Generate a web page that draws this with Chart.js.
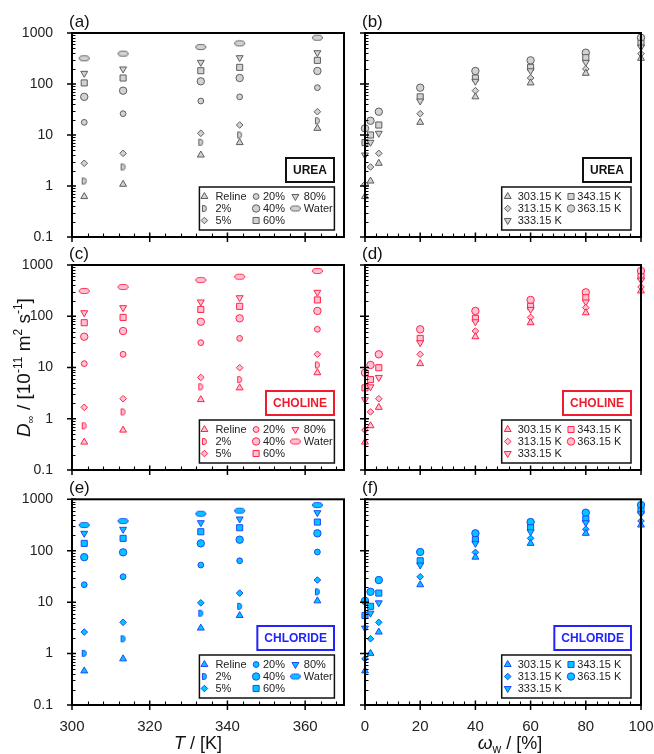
<!DOCTYPE html>
<html>
<head>
<meta charset="utf-8">
<script src="https://cdn.jsdelivr.net/npm/chart.js@4.4.1/dist/chart.umd.min.js"></script>
<style>
  body { margin: 0; background: #fff; }
  #fig { position: relative; width: 654px; height: 754px; }
  #fig canvas { position: absolute; }
</style>
</head>
<body>
<div id="fig">
  <canvas id="pa"></canvas><canvas id="pb"></canvas>
  <canvas id="pc"></canvas><canvas id="pd"></canvas>
  <canvas id="pe"></canvas><canvas id="pf"></canvas>
</div>
<script>
// temperatures and water contents used in the measurements
const temps = [303.15, 313.15, 333.15, 343.15, 363.15];
const tempLabels = ["303.15 K", "313.15 K", "333.15 K", "343.15 K", "363.15 K"];
const waterContent = [0, 2, 5, 20, 40, 60, 80, 100];
const mixLabels = ["Reline", "2%", "5%", "20%", "40%", "60%", "80%", "Water"];

// D_inf in 10^-11 m2/s, one array per mixture (values at each temperature)
const ureaReline = [0.62, 1.08, 4.05, 7.1, 13.5];
const urea2 = [1.25, 2.36, 7.2, 10.0, 19.0];
const urea5 = [2.79, 4.37, 10.8, 15.7, 28.6];
const urea20 = [17.7, 26.2, 46.4, 56, 84.7];
const urea40 = [56, 74, 113, 131, 180];
const urea60 = [105, 131, 182, 212, 291];
const urea80 = [162, 197, 266, 328, 411];
const ureaWater = [319, 393, 531, 627, 809];

const cholineReline = [0.35, 0.60, 2.36, 4.0, 7.9];
const choline2 = [0.73, 1.36, 4.2, 5.8, 11.2];
const choline5 = [1.67, 2.46, 6.4, 9.9, 18.1];
const choline20 = [11.9, 18.1, 30.5, 37, 55.6];
const choline40 = [39.9, 51.5, 78, 91, 127];
const choline60 = [74.8, 95, 136, 156, 208];
const choline80 = [117, 147, 190, 230, 293];
const cholineWater = [311, 373, 509, 591, 764];

const chlorideReline = [0.46, 0.79, 3.13, 5.5, 10.6];
const chloride2 = [1.01, 1.94, 6.1, 8.3, 15.9];
const chloride5 = [2.62, 4.05, 9.7, 15.0, 26.9];
const chloride20 = [21.8, 31.2, 52.7, 63.8, 94.4];
const chloride40 = [75, 93, 139, 164, 218];
const chloride60 = [139, 174, 234, 280, 361];
const chloride80 = [218, 261, 351, 414, 549];
const chlorideWater = [316, 378, 525, 600, 774];

// axis ticks
const yTickValues = [0.1, 1, 10, 100, 1000];
const yTickLabels = ["0.1", "1", "10", "100", "1000"];
const tTickValues = [300, 320, 340, 360];
const tTickLabels = ["300", "320", "340", "360"];
const wTickValues = [0, 20, 40, 60, 80, 100];
const wTickLabels = ["0", "20", "40", "60", "80", "100"];

const FONT = "'Liberation Sans', Arial, sans-serif";

// small canvas markers for the "D" and the flat ellipse
function makeDMarker(fill, stroke) {
    var c = document.createElement("canvas");
    c.width = 7; c.height = 9;
    var g = c.getContext("2d");
    g.beginPath();
    g.moveTo(1.5, 1.5);
    g.lineTo(3, 1.5);
    g.ellipse(3, 4.5, 2.5, 3, 0, -Math.PI / 2, Math.PI / 2);
    g.lineTo(1.5, 7.5);
    g.closePath();
    g.fillStyle = fill; g.fill();
    g.lineWidth = 1; g.strokeStyle = stroke; g.stroke();
    return c;
}
function makeEllipseMarker(fill, stroke) {
    var c = document.createElement("canvas");
    c.width = 13; c.height = 8;
    var g = c.getContext("2d");
    g.beginPath();
    g.ellipse(6.5, 4, 5, 2.6, 0, 0, Math.PI * 2);
    g.fillStyle = fill; g.fill();
    g.lineWidth = 1; g.strokeStyle = stroke; g.stroke();
    return c;
}

const themes = {
    urea: { fill: "#d2d2d2", stroke: "#5e5e5e", name: "UREA", nameColor: "#111111" },
    choline: { fill: "#ffc2d4", stroke: "#ff2448", name: "CHOLINE", nameColor: "#ee1c2e" },
    chloride: { fill: "#00c6ff", stroke: "#1f48ff", name: "CHLORIDE", nameColor: "#2323ff" }
};
for (var k in themes) {
    themes[k].dImg = makeDMarker(themes[k].fill, themes[k].stroke);
    themes[k].eImg = makeEllipseMarker(themes[k].fill, themes[k].stroke);
}

function mixStyles(th) {
    return [
        { pointStyle: "triangle", radius: 4, rotation: 0 },
        { pointStyle: th.dImg, radius: 4, rotation: 0 },
        { pointStyle: "rectRot", radius: 3.3, rotation: 0 },
        { pointStyle: "circle", radius: 2.9, rotation: 0 },
        { pointStyle: "circle", radius: 3.7, rotation: 0 },
        { pointStyle: "rect", radius: 4.3, rotation: 0 },
        { pointStyle: "triangle", radius: 4, rotation: 180 },
        { pointStyle: th.eImg, radius: 5, rotation: 0 }
    ];
}
function tempStyles(th) {
    return [
        { pointStyle: "triangle", radius: 4, rotation: 0 },
        { pointStyle: "rectRot", radius: 3.3, rotation: 0 },
        { pointStyle: "triangle", radius: 4, rotation: 180 },
        { pointStyle: "rect", radius: 4.3, rotation: 0 },
        { pointStyle: "circle", radius: 3.7, rotation: 0 }
    ];
}

function baseDataset(th, st) {
    return {
        pointStyle: st.pointStyle, pointRadius: st.radius, pointRotation: st.rotation,
        backgroundColor: th.fill, borderColor: th.stroke, pointBorderWidth: 1,
        showLine: false, clip: false
    };
}

// D vs T: one dataset per mixture
function byTemperature(rows, th) {
    var st = mixStyles(th);
    return rows.map(function (row, i) {
        var ds = baseDataset(th, st[i]);
        ds.label = mixLabels[i];
        ds.data = temps.map(function (t, j) { return { x: t, y: row[j] }; });
        return ds;
    });
}
// D vs water content: one dataset per temperature
function byWater(rows, th) {
    var st = tempStyles(th);
    return temps.map(function (t, j) {
        var ds = baseDataset(th, st[j]);
        ds.label = tempLabels[j];
        ds.data = waterContent.map(function (w, i) { return { x: w, y: rows[i][j] }; });
        return ds;
    });
}

const ureaRows = [ureaReline, urea2, urea5, urea20, urea40, urea60, urea80, ureaWater];
const cholineRows = [cholineReline, choline2, choline5, choline20, choline40, choline60, choline80, cholineWater];
const chlorideRows = [chlorideReline, chloride2, chloride5, chloride20, chloride40, chloride60, chloride80, chlorideWater];

const panelById = {};

function drawRich(ctx, parts, cx, baseY) {
    var total = 0;
    parts.forEach(function (p) { ctx.font = p.f; p.w = ctx.measureText(p.t).width; total += p.w; });
    var x = cx - total / 2;
    ctx.textAlign = "left";
    ctx.textBaseline = "alphabetic";
    parts.forEach(function (p) {
        ctx.font = p.f;
        ctx.fillText(p.t, x, baseY + (p.dy || 0));
        x += p.w;
    });
}

const decorPlugin = {
    id: "decor",
    afterDraw: function (chart) {
        var p = panelById[chart.canvas.id];
        var a = chart.chartArea;
        var ctx = chart.ctx;
        var xs = chart.scales.x, ys = chart.scales.y;
        ctx.save();
        ctx.strokeStyle = "#000";

        // minor ticks (inside)
        ctx.lineWidth = 1.1;
        ctx.beginPath();
        for (var e = -1; e <= 2; e++) {
            for (var m = 2; m <= 9; m++) {
                var py = Math.round(ys.getPixelForValue(m * Math.pow(10, e))) + 0.5;
                ctx.moveTo(a.left, py); ctx.lineTo(a.left + 3.5, py);
            }
        }
        for (var v = p.xMin; v <= p.xMax; v += p.xMinorStep) {
            if (p.xTickValues.indexOf(v) >= 0) continue;
            var px = Math.round(xs.getPixelForValue(v)) + 0.5;
            ctx.moveTo(px, a.bottom); ctx.lineTo(px, a.bottom - 3.5);
        }
        ctx.stroke();

        // major ticks (across the axis)
        ctx.lineWidth = 1.5;
        ctx.beginPath();
        yTickValues.forEach(function (v) {
            var py = ys.getPixelForValue(v);
            ctx.moveTo(a.left - 5, py); ctx.lineTo(a.left + 4, py);
        });
        p.xTickValues.forEach(function (v) {
            var px = xs.getPixelForValue(v);
            ctx.moveTo(px, a.bottom - 4.5); ctx.lineTo(px, a.bottom + 5);
        });
        ctx.stroke();

        // frame
        ctx.lineWidth = 2;
        ctx.strokeRect(a.left, a.top, a.right - a.left, a.bottom - a.top);

        // panel tag
        ctx.fillStyle = "#111";
        ctx.font = "17px " + FONT;
        ctx.textAlign = "left";
        ctx.textBaseline = "middle";
        ctx.fillText(p.tag, a.left - 3, a.top - 11);

        // name box
        var th = p.theme;
        ctx.font = "bold 12px " + FONT;
        var tw = ctx.measureText(th.name).width;
        var bw = tw + 14, bh = 24;
        var bx = a.right - 10 - bw, by = a.bottom - 55 - bh;
        ctx.fillStyle = "#fff";
        ctx.fillRect(bx, by, bw, bh);
        ctx.lineWidth = 2;
        ctx.strokeStyle = th.nameColor;
        ctx.strokeRect(bx, by, bw, bh);
        ctx.fillStyle = th.nameColor;
        ctx.textAlign = "center";
        ctx.fillText(th.name, bx + bw / 2, by + bh / 2 + 0.5);

        // legend
        var lg = p.legend;
        var lx = a.right - lg.right - lg.w, ly = a.bottom - lg.bottom - lg.h;
        ctx.fillStyle = "#fff";
        ctx.fillRect(lx, ly, lg.w, lg.h);
        ctx.lineWidth = 1.5;
        ctx.strokeStyle = "#111";
        ctx.strokeRect(lx, ly, lg.w, lg.h);
        var rowsY = [9.5, 21.5, 33.5];
        ctx.font = "11px " + FONT;
        ctx.textAlign = "left";
        lg.labels.forEach(function (label, i) {
            var col = Math.floor(i / 3), row = i % 3;
            var ty = ly + rowsY[row];
            var st = lg.styles[i];
            ctx.fillStyle = th.fill;
            ctx.strokeStyle = th.stroke;
            ctx.lineWidth = 1;
            Chart.helpers.drawPoint(ctx, { pointStyle: st.pointStyle, radius: st.radius, rotation: st.rotation, borderWidth: 1 }, lx + lg.cols[col].m, ty);
            ctx.fillStyle = "#222";
            ctx.textBaseline = "middle";
            ctx.fillText(label, lx + lg.cols[col].t, ty + 0.5);
        });

        // axis titles
        ctx.fillStyle = "#111";
        if (p.yTitle) {
            ctx.save();
            ctx.translate(29.5, (a.top + a.bottom) / 2);
            ctx.rotate(-Math.PI / 2);
            drawRich(ctx, [
                { t: "D", f: "italic 19px " + FONT },
                { t: "\u221e", f: "11px " + FONT, dy: 4 },
                { t: " / [10", f: "19px " + FONT },
                { t: "-11", f: "12px " + FONT, dy: -8 },
                { t: " m", f: "19px " + FONT },
                { t: "2", f: "12px " + FONT, dy: -8 },
                { t: " s", f: "19px " + FONT },
                { t: "-1", f: "12px " + FONT, dy: -8 },
                { t: "]", f: "19px " + FONT }
            ], 0, 0);
            ctx.restore();
        }
        if (p.xTitle === "T") {
            drawRich(ctx, [
                { t: "T", f: "italic 18px " + FONT },
                { t: " / [K]", f: "18px " + FONT }
            ], (a.left + a.right) / 2 - 10, 271);
        } else if (p.xTitle === "W") {
            drawRich(ctx, [
                { t: "\u03c9", f: "italic 19px " + FONT },
                { t: "w", f: "12px " + FONT, dy: 4 },
                { t: " / [%]", f: "18px " + FONT }
            ], (a.left + a.right) / 2 + 7, 271);
        }
        ctx.restore();
    }
};

function makePanel(p) {
    var cv = document.getElementById(p.id);
    cv.width = p.w; cv.height = p.h;
    cv.style.left = p.left + "px"; cv.style.top = p.top + "px";
    panelById[p.id] = p;
    return new Chart(cv, {
        type: "scatter",
        data: { datasets: p.datasets },
        options: {
            responsive: false,
            animation: false,
            events: [],
            layout: { padding: { top: p.padTop, right: p.padRight, left: 0, bottom: 0 } },
            plugins: { legend: { display: false }, tooltip: { enabled: false } },
            scales: {
                x: {
                    type: "linear", min: p.xMin, max: p.xMax, bounds: "data",
                    grid: { display: false }, border: { display: false },
                    ticks: {
                        display: p.xLabels, padding: 5, color: "#222", autoSkip: false, maxRotation: 0,
                        font: { family: FONT, size: 15 },
                        callback: function (v, i) { return p.xTickLabels[i]; }
                    },
                    afterBuildTicks: function (s) { s.ticks = p.xTickValues.map(function (v) { return { value: v }; }); },
                    afterFit: function (s) { s.height = p.xH; s.paddingLeft = 0; s.paddingRight = 0; }
                },
                y: {
                    type: "logarithmic", min: 0.1, max: 1000,
                    grid: { display: false }, border: { display: false },
                    ticks: {
                        display: p.yLabels, padding: 11, color: "#222", autoSkip: false,
                        font: { family: FONT, size: 14 },
                        callback: function (v, i) { return yTickLabels[i]; }
                    },
                    afterBuildTicks: function (s) { s.ticks = yTickValues.map(function (v) { return { value: v }; }); },
                    afterFit: function (s) { s.width = p.yW; s.paddingTop = 0; s.paddingBottom = 0; }
                }
            }
        },
        plugins: [decorPlugin]
    });
}

const LEFT = { left: 0, w: 350, yW: 72, padRight: 3.4, yLabels: true, xMin: 300, xMax: 370,
    xTickValues: tTickValues, xTickLabels: tTickLabels, xMinorStep: 4 };
const RIGHT = { left: 350, w: 304, yW: 15, padRight: 13, yLabels: false, xMin: 0, xMax: 100,
    xTickValues: wTickValues, xTickLabels: wTickLabels, xMinorStep: 4 };
const ROWS = [
    { top: 0, h: 245, padTop: 33, xH: 8, xLabels: false },
    { top: 245, h: 233, padTop: 20, xH: 8, xLabels: false },
    { top: 478, h: 276, padTop: 21.3, xH: 49, xLabels: true }
];
const systems = [
    { theme: themes.urea, rows: ureaRows, tags: ["(a)", "(b)"] },
    { theme: themes.choline, rows: cholineRows, tags: ["(c)", "(d)"] },
    { theme: themes.chloride, rows: chlorideRows, tags: ["(e)", "(f)"] }
];
const ids = [["pa", "pb"], ["pc", "pd"], ["pe", "pf"]];

systems.forEach(function (sys, r) {
    var row = ROWS[r];
    var th = sys.theme;
    var left = Object.assign({}, LEFT, row, {
        id: ids[r][0], tag: sys.tags[0], theme: th,
        datasets: byTemperature(sys.rows, th),
        yTitle: r === 1, xTitle: r === 2 ? "T" : null,
        legend: { w: 135, h: 43, right: 9.6, bottom: 7, labels: mixLabels, styles: mixStyles(th),
            cols: [{ m: 5, t: 16 }, { m: 56.7, t: 63.5 }, { m: 96, t: 104.4 }] }
    });
    var right = Object.assign({}, RIGHT, row, {
        id: ids[r][1], tag: sys.tags[1], theme: th,
        datasets: byWater(sys.rows, th),
        yTitle: false, xTitle: r === 2 ? "W" : null,
        legend: { w: 129.3, h: 43, right: 10, bottom: 7, labels: tempLabels, styles: tempStyles(th),
            cols: [{ m: 6, t: 16 }, { m: 69.3, t: 75.6 }] }
    });
    makePanel(left);
    makePanel(right);
});
</script>
</body>
</html>
